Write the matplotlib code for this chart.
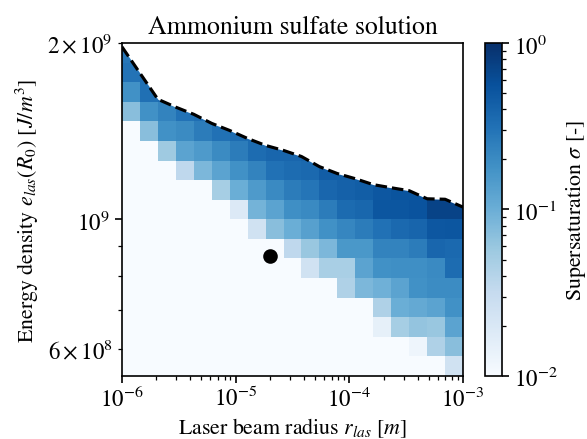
import matplotlib
matplotlib.use("Agg")
import matplotlib.pyplot as plt
import numpy as np
from matplotlib.colors import LogNorm

plt.rcParams.update({
    "font.family": "serif",
    "font.serif": ["STIXGeneral", "Liberation Serif", "DejaVu Serif"],
    "mathtext.fontset": "stix",
    "font.size": 10.5,
    "xtick.labelsize": 11,
    "ytick.labelsize": 11,
    "xtick.major.pad": 1.2,
    "xtick.minor.pad": 1.2,
    "ytick.major.pad": 2.4,
    "ytick.minor.pad": 2.4,
})

# Grid: 19 radius bins (log-spaced 1e-6..1e-3), 17 energy bins (ratio 2**(1/9), top = 2e9)
R_EDGES = np.logspace(-6, -3, 20)
E_EDGES = 2e9 * 2.0 ** (-np.arange(17, -1, -1) / 9.0)

n = np.nan
f = 0.01  # below colour range -> palest colour
# supersaturation, top row (highest energy) first
SIGMA = [
    [0.28] + [n] * 18,
    [0.30, 0.33] + [n] * 17,
    [0.18, 0.32, 0.35] + [n] * 16,
    [0.072, 0.18, 0.23, 0.31, 0.33] + [n] * 14,
    [f, 0.072, 0.178, 0.20, 0.26, 0.316, 0.34, 0.36] + [n] * 11,
    [f, f, 0.056, 0.126, 0.15, 0.20, 0.26, 0.34, 0.38, 0.38, 0.40] + [n] * 8,
    [f, f, f, 0.035, 0.083, 0.126, 0.178, 0.23, 0.316, 0.34, 0.36, 0.45, 0.44, 0.47] + [n] * 5,
    [f] * 5 + [0.050, 0.10, 0.151, 0.204, 0.26, 0.29, 0.38, 0.42, 0.44, 0.50, 0.53, 0.53, 0.58, 0.60],
    [f] * 6 + [0.019, 0.091, 0.126, 0.186, 0.204, 0.263, 0.347, 0.372, 0.513, 0.513, 0.537, 0.72, 0.72],
    [f] * 7 + [0.025, 0.072, 0.10, 0.132, 0.178, 0.219, 0.263, 0.316, 0.363, 0.389, 0.50, 0.513],
    [f] * 9 + [0.035, 0.060, 0.083, 0.158, 0.158, 0.229, 0.229, 0.263, 0.38, 0.36],
    [f] * 10 + [0.025, 0.048, 0.048, 0.126, 0.178, 0.186, 0.186, 0.204, 0.34],
    [f] * 12 + [0.044, 0.083, 0.095, 0.126, 0.178, 0.195, 0.195],
    [f] * 14 + [0.044, 0.10, 0.11, 0.126, 0.178],
    [f] * 14 + [0.0151, 0.050, 0.063, 0.060, 0.126],
    [f] * 16 + [0.0126, 0.044, 0.072],
    [f] * 18 + [0.025],
]

# upper limit (dashed), evaluated at the radius bin edges
LIMIT_E = [1.97e9, 1.777e9, 1.603e9, 1.554e9, 1.511e9, 1.458e9, 1.418e9, 1.374e9,
           1.337e9, 1.311e9, 1.280e9, 1.230e9, 1.197e9, 1.173e9, 1.146e9, 1.132e9,
           1.119e9, 1.084e9, 1.082e9, 1.049e9]

POINT_R = 2.0e-5
POINT_E = 8.66e8


def main() -> None:
    fig = plt.figure(figsize=(587 / 150, 440 / 150), dpi=150)
    ax = fig.add_axes([0.2078, 0.1432, 0.5810, 0.7568])
    cax = fig.add_axes([0.8262, 0.1432, 0.0290, 0.7568])

    z = np.array(SIGMA)[::-1]
    mesh = ax.pcolormesh(R_EDGES, E_EDGES, np.ma.masked_invalid(z),
                         cmap="Blues", norm=LogNorm(vmin=1e-2, vmax=1))
    ax.fill_between(R_EDGES, LIMIT_E, 3e9, color="white", lw=0, zorder=2)
    ax.plot(R_EDGES, LIMIT_E, "k--", lw=1.5, zorder=3)
    ax.plot(POINT_R, POINT_E, "o", color="k", ms=6, zorder=4)

    ax.set_xscale("log")
    ax.set_yscale("log")
    ax.set_xlim(1e-6, 1e-3)
    ax.set_ylim(E_EDGES[0], 2e9)
    ax.set_xlabel(r"Laser beam radius $r_{las}$ $[m]$", labelpad=2)
    ax.set_ylabel(r"Energy density $e_{las}(R_0)$ $[J/m^3]$", labelpad=3)
    ax.set_title("Ammonium sulfate solution", fontsize=12.4, pad=5)

    cb = fig.colorbar(mesh, cax=cax)
    cb.set_label(r"Supersaturation $\sigma$ [-]", labelpad=3)

    fig.savefig("out.png", dpi=150)
    plt.close(fig)


if __name__ == "__main__":
    main()
